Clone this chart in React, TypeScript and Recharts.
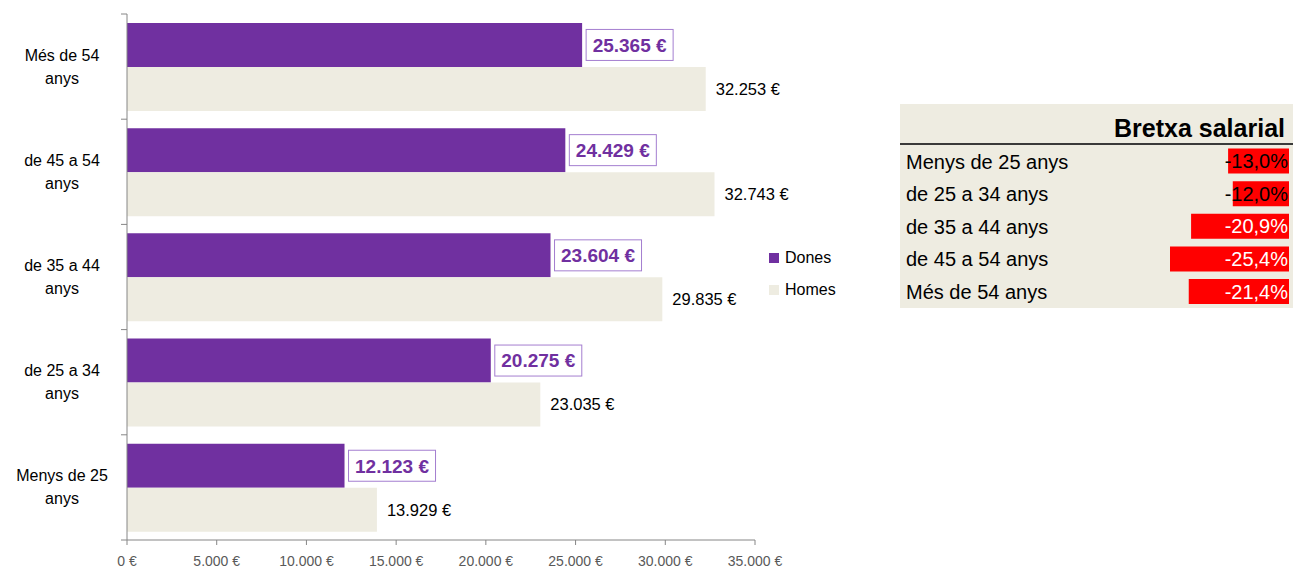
import React from "react";
import { BarChart, Bar, XAxis, YAxis, Legend, LabelList } from "recharts";

const categories = ["Més de 54 anys", "de 45 a 54 anys", "de 35 a 44 anys", "de 25 a 34 anys", "Menys de 25 anys"];
const dones = [25365, 24429, 23604, 20275, 12123];
const homes = [32253, 32743, 29835, 23035, 13929];
const xTicks = [0, 5000, 10000, 15000, 20000, 25000, 30000, 35000];

const gapCategories = ["Menys de 25 anys", "de 25 a 34 anys", "de 35 a 44 anys", "de 45 a 54 anys", "Més de 54 anys"];
const gapValues = [-13.0, -12.0, -20.9, -25.4, -21.4];

const FONT = '"Liberation Sans", Arial, sans-serif';
const PURPLE = "#7030A0";
const BEIGE = "#EEECE1";
const AXIS = "#868686";

const salaryData = categories.map((name, i) => ({ name, dones: dones[i], homes: homes[i] }));
const gapData = gapCategories.map((name, i) => ({ name, gap: gapValues[i] }));

const euro = (n: number) => String(n).replace(/\B(?=(\d{3})+(?!\d))/g, ".") + " €";
const pct = (v: number) => v.toFixed(1).replace(".", ",") + "%";

// plot area geometry of the main chart
const CHART_H = 569;
const M_TOP = 14;
const X_AXIS_H = 24;
const M_BOTTOM = 5;
const BAND = (CHART_H - M_TOP - X_AXIS_H - M_BOTTOM) / categories.length;

function CategoryTick(props: any) {
  const { x, y, payload } = props;
  const first = String(payload.value).replace(/ anys$/, "");
  const last = payload.value === categories[categories.length - 1];
  const ax = x + 8;
  return (
    <g>
      <line x1={ax - 6} x2={ax} y1={y - BAND / 2} y2={y - BAND / 2} stroke={AXIS} />
      {last && <line x1={ax - 6} x2={ax} y1={y + BAND / 2} y2={y + BAND / 2} stroke={AXIS} />}
      <text x={62} y={y} textAnchor="middle" fontSize={16} fill="#000" fontFamily={FONT}>
        <tspan x={62} dy={-6}>{first}</tspan>
        <tspan x={62} dy={23}>anys</tspan>
      </text>
    </g>
  );
}

function DonesLabel(props: any) {
  const { x, y, width, height, value } = props;
  const bx = x + width + 4;
  const cy = y + height / 2;
  return (
    <g>
      <rect x={bx} y={cy - 15.5} width={87} height={31} fill="#fff" stroke="#A47ED0" strokeWidth={1} />
      <text x={bx + 43.5} y={cy} dy="0.36em" textAnchor="middle" fontSize={19} fontWeight="bold" fill={PURPLE} fontFamily={FONT}>
        {euro(value)}
      </text>
    </g>
  );
}

function HomesLabel(props: any) {
  const { x, y, width, height, value } = props;
  return (
    <text x={x + width + 10} y={y + height / 2} dy="0.36em" fontSize={16.5} fill="#000" fontFamily={FONT}>
      {euro(value)}
    </text>
  );
}

function LegendBox() {
  const items = [
    { label: "Dones", color: PURPLE },
    { label: "Homes", color: BEIGE },
  ];
  return (
    <div style={{ fontFamily: FONT, fontSize: 16, color: "#000" }}>
      {items.map((it, i) => (
        <div key={it.label} style={{ display: "flex", alignItems: "center", height: 20, marginBottom: i === 0 ? 12 : 0 }}>
          <span style={{ width: 10, height: 10, background: it.color, display: "inline-block", marginRight: 6 }} />
          <span>{it.label}</span>
        </div>
      ))}
    </div>
  );
}

function GapTick(props: any) {
  const { y, payload } = props;
  return (
    <text x={6} y={y} dy="0.36em" textAnchor="start" fontSize={20} fill="#000" fontFamily={FONT}>
      {payload.value}
    </text>
  );
}

function GapLabel(props: any) {
  const { y, height, value } = props;
  return (
    <text x={388} y={y + height / 2} dy="0.36em" textAnchor="end" fontSize={20} fill={value < -20 ? "#fff" : "#000"} fontFamily={FONT}>
      {pct(value)}
    </text>
  );
}

export default function App() {
  const gapMin = Math.min(...gapValues);
  return (
    <div style={{ position: "absolute", left: 0, top: 0, width: 1298, height: 569, background: "#fff", fontFamily: FONT }}>
      <BarChart
        width={880}
        height={CHART_H}
        data={salaryData}
        layout="vertical"
        margin={{ top: M_TOP, right: 125, bottom: M_BOTTOM, left: 0 }}
        barCategoryGap="8.5%"
        barGap={0}
      >
        <XAxis
          type="number"
          domain={[0, 35000]}
          ticks={xTicks}
          tickFormatter={euro}
          height={X_AXIS_H}
          tick={{ fontSize: 14, fill: "#595959", fontFamily: FONT }}
          tickLine={{ stroke: AXIS }}
          tickSize={5}
          tickMargin={11}
          axisLine={{ stroke: AXIS }}
        />
        <YAxis
          type="category"
          dataKey="name"
          width={127}
          tickLine={false}
          axisLine={{ stroke: AXIS }}
          tick={<CategoryTick />}
        />
        <Legend
          layout="vertical"
          align="center"
          verticalAlign="middle"
          content={<LegendBox />}
          wrapperStyle={{ left: 769, top: 248, right: "auto", bottom: "auto", width: 110 }}
        />
        <Bar dataKey="dones" name="Dones" fill={PURPLE} isAnimationActive={false}>
          <LabelList dataKey="dones" content={<DonesLabel />} />
        </Bar>
        <Bar dataKey="homes" name="Homes" fill={BEIGE} isAnimationActive={false}>
          <LabelList dataKey="homes" content={<HomesLabel />} />
        </Bar>
      </BarChart>

      <div style={{ position: "absolute", left: 900, top: 104, width: 393, height: 204, background: BEIGE }}>
        <div
          style={{
            height: 41,
            borderBottom: "2px solid #3a3a3a",
            textAlign: "right",
            paddingRight: 8,
            boxSizing: "border-box",
            fontSize: 25,
            fontWeight: "bold",
            lineHeight: "34px",
            paddingTop: 7,
            color: "#000",
          }}
        >
          Bretxa salarial
        </div>
        <BarChart
          width={393}
          height={163}
          data={gapData}
          layout="vertical"
          margin={{ top: 0, right: 4, bottom: 0, left: 0 }}
          barCategoryGap="11%"
        >
          <XAxis type="number" domain={[gapMin, 0]} hide />
          <YAxis type="category" dataKey="name" width={270} tickLine={false} axisLine={false} tick={<GapTick />} />
          <Bar dataKey="gap" fill="#FF0000" isAnimationActive={false}>
            <LabelList dataKey="gap" content={<GapLabel />} />
          </Bar>
        </BarChart>
      </div>
    </div>
  );
}
